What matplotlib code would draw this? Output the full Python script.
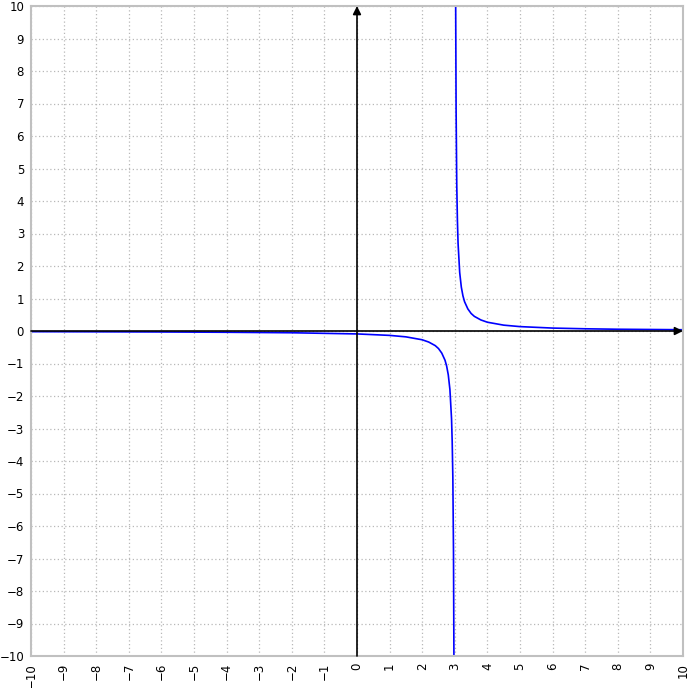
import matplotlib
matplotlib.use("Agg")
from matplotlib import pyplot as plt

# points (two branches around x = 3)
left_x = [-10, -8, -6, -4, -2, 0, 1, 1.5, 2, 2.2, 2.4, 2.5, 2.6, 2.7, 2.75, 2.8, 2.85, 2.9, 2.92, 2.94, 2.96, 2.973]
left_y = [-0.021, -0.025, -0.03, -0.039, -0.054, -0.09, -0.135, -0.18, -0.27, -0.34, -0.45, -0.54, -0.68,
          -0.9, -1.08, -1.35, -1.8, -2.7, -3.4, -4.5, -6.8, -10]
right_x = [3.027, 3.04, 3.06, 3.08, 3.1, 3.15, 3.2, 3.25, 3.3, 3.4, 3.5, 3.6, 3.8, 4.0, 4.5, 5, 6, 7, 8, 10]
right_y = [10, 6.8, 4.5, 3.4, 2.7, 1.8, 1.35, 1.08, 0.9, 0.68, 0.54, 0.45, 0.34, 0.27, 0.18, 0.135,
           0.09, 0.068, 0.054, 0.039]

ticks = list(range(-10, 11))
tick_labels = [str(t).replace("-", "\u2212") for t in ticks]

fig = plt.figure(figsize=(6.88, 6.88), dpi=100)
ax = fig.add_axes([31 / 688, 32 / 688, 652 / 688, 650 / 688])

ax.plot(left_x, left_y, color="#0000ff", lw=1.2, zorder=2)
ax.plot(right_x, right_y, color="#0000ff", lw=1.2, zorder=2)

# axes with arrows
arrow = dict(arrowstyle="-|>", color="black", lw=1.2, mutation_scale=12, shrinkA=0, shrinkB=0)
ax.annotate("", xy=(10, 0), xytext=(-10, 0), arrowprops=arrow, zorder=3)
ax.annotate("", xy=(0, 10), xytext=(0, -10), arrowprops=arrow, zorder=3)

ax.set_xlim(-10, 10)
ax.set_ylim(-10, 10)
ax.set_xticks(ticks)
ax.set_yticks(ticks)
ax.set_xticklabels(tick_labels, rotation=90, fontsize=8.5)
ax.set_yticklabels(tick_labels, fontsize=8.5)
ax.tick_params(length=0, pad=5)
ax.grid(True, color="#b8b8b8", linestyle=(0, (1, 2)), lw=0.9)
for s in ax.spines.values():
    s.set_color("#c0c0c0")
    s.set_linewidth(1.5)

fig.savefig("out.png", dpi=100)
